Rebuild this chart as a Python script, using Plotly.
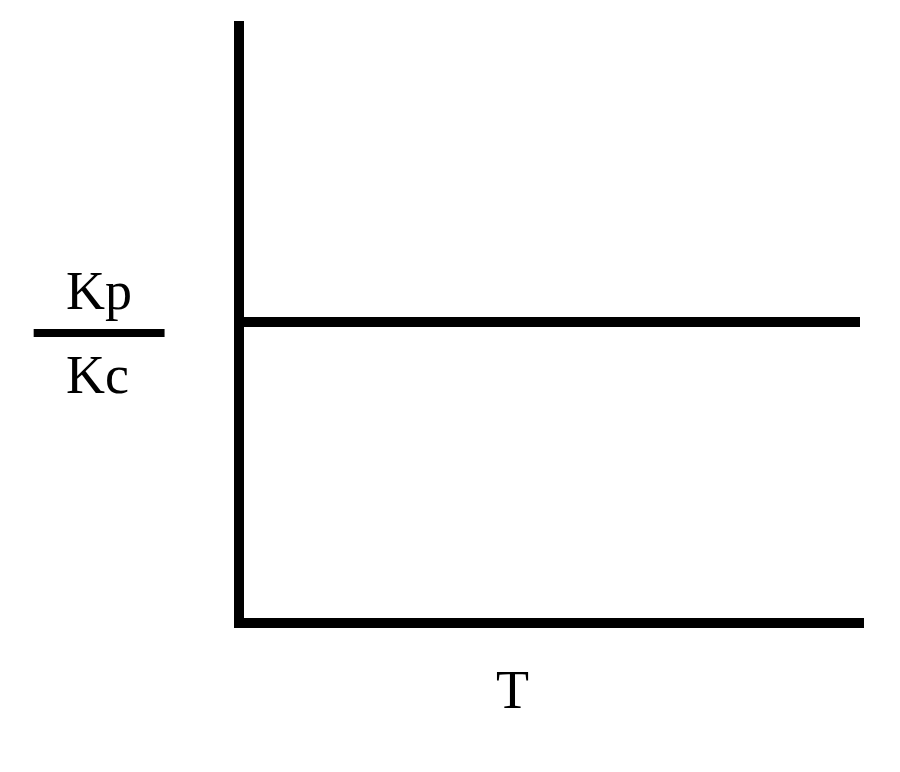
import plotly.graph_objects as go

# Data: Kp/Kc is independent of temperature T (constant ratio)
T_values = [0, 10]
ratio_values = [1, 1]

x_title = "T"
y_num = "Kp"
y_den = "Kc"

W, H = 900, 772
OFF = 8  # page body margin offset
# plot area in reference pixel coordinates
PL, PR, PT, PB = 243.5, 864, 21, 618
L = PL - OFF
R = W - (PR - OFF)
TOP = PT - OFF
B = H - (PB - OFF)
pw, ph = PR - PL, PB - PT

def px(x):
    return (x - PL) / pw

def py(y):
    return (PB - y) / ph

fig = go.Figure()
fig.add_trace(go.Scatter(
    x=T_values, y=ratio_values, mode="lines",
    line=dict(color="black", width=10),
    hoverinfo="skip", showlegend=False, cliponaxis=False,
))

font = dict(family="Liberation Serif, Times New Roman, serif", size=54, color="black")

fig.update_layout(
    width=W, height=H,
    margin=dict(l=L, r=R, t=TOP, b=B, pad=0),
    paper_bgcolor="white", plot_bgcolor="white",
    xaxis=dict(range=[0, 10.065], showgrid=False, zeroline=False, showticklabels=False,
               ticks="", showline=True, linecolor="black", linewidth=10, fixedrange=True),
    yaxis=dict(range=[0, 2.017], showgrid=False, zeroline=False, showticklabels=False,
               ticks="", showline=True, linecolor="black", linewidth=10, fixedrange=True),
    showlegend=False,
    annotations=[
        dict(text=x_title, xref="paper", yref="paper", x=px(512), y=py(690),
             showarrow=False, font=font, xanchor="center", yanchor="middle"),
        dict(text=y_num, xref="paper", yref="paper", x=px(98), y=py(291),
             showarrow=False, font=font, xanchor="center", yanchor="middle"),
        dict(text=y_den, xref="paper", yref="paper", x=px(97), y=py(375),
             showarrow=False, font=font, xanchor="center", yanchor="middle"),
    ],
    shapes=[
        dict(type="line", xref="paper", yref="paper", x0=px(33), x1=px(164),
             y0=py(333), y1=py(333), line=dict(color="black", width=8)),
    ],
)

fig.write_html("out.html")
